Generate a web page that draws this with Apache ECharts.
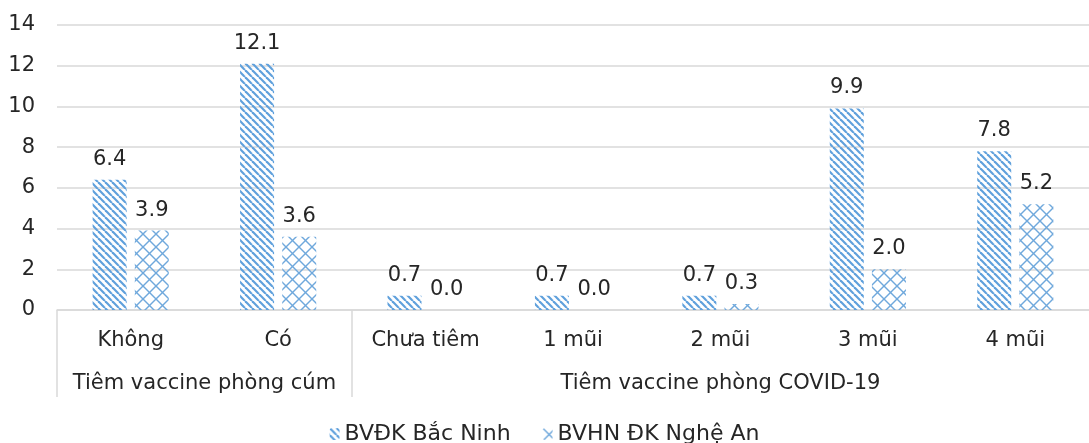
<!DOCTYPE html>
<html>
<head>
<meta charset="utf-8">
<script src="https://cdn.jsdelivr.net/npm/echarts@6/dist/echarts.min.js"></script>
<style>
html,body{margin:0;padding:0;background:#fff;}
#chart{width:1089px;height:443px;}
</style>
</head>
<body>
<div id="chart"></div>
<script>
// ---- data ----
const categories = ['Không', 'Có', 'Chưa tiêm', '1 mũi', '2 mũi', '3 mũi', '4 mũi'];
const groupLabels = ['Tiêm vaccine phòng cúm', 'Tiêm vaccine phòng COVID-19'];
const groupSizes = [2, 5];
const seriesNames = ['BVĐK Bắc Ninh', 'BVHN ĐK Nghệ An'];
const bacNinh = [6.4, 12.1, 0.7, 0.7, 0.7, 9.9, 7.8];
const ngheAn = [3.9, 3.6, 0.0, 0.0, 0.3, 2.0, 5.2];
const yMin = 0, yMax = 14, yStep = 2;

// ---- patterns ----
function stripePattern() {
  const s = 7;
  const c = document.createElement('canvas');
  c.width = s; c.height = s;
  const ctx = c.getContext('2d');
  ctx.strokeStyle = '#5fa0dc';
  ctx.lineWidth = 2.2;
  for (const k of [-1, 0, 1]) {
    ctx.beginPath();
    ctx.moveTo(k * s, 0);
    ctx.lineTo(k * s + s, s);
    ctx.stroke();
  }
  return { image: c, repeat: 'repeat' };
}
function crossPattern() {
  const s = 13;
  const c = document.createElement('canvas');
  c.width = s; c.height = s;
  const ctx = c.getContext('2d');
  ctx.strokeStyle = '#6fa8dc';
  ctx.lineWidth = 1.4;
  for (const k of [-1, 0, 1]) {
    ctx.beginPath();
    ctx.moveTo(k * s, 0);
    ctx.lineTo(k * s + s, s);
    ctx.stroke();
    ctx.beginPath();
    ctx.moveTo(k * s + s, 0);
    ctx.lineTo(k * s, s);
    ctx.stroke();
  }
  return { image: c, repeat: 'repeat' };
}

// group geometry on a 0..N value axis (derived from groupSizes)
const groupBounds = [0];
const groupCenters = [];
groupSizes.forEach((n, i) => {
  groupCenters.push(groupBounds[i] + n / 2);
  groupBounds.push(groupBounds[i] + n);
});

const FONT = 'DejaVu Sans';
const TXT = '#262626';
const GRID = '#d9d9d9';

const labelCfg = {
  show: true,
  position: 'top',
  distance: 10,
  fontFamily: FONT,
  fontSize: 21,
  color: TXT,
  formatter: p => Number(p.value).toFixed(1)
};

const chart = echarts.init(document.getElementById('chart'), null, { renderer: 'canvas' });
chart.setOption({
  backgroundColor: '#fff',
  animation: false,
  textStyle: { fontFamily: FONT },
  grid: { left: 57, right: 0, top: 25, bottom: 133, containLabel: false },
  legend: {
    top: 418,
    left: 'center',
    itemWidth: 10,
    itemHeight: 12,
    itemGap: 32,
    textStyle: { fontFamily: FONT, fontSize: 22, color: TXT },
    data: seriesNames
  },
  xAxis: [
    {
      type: 'category',
      data: categories,
      axisLine: { show: true, lineStyle: { color: GRID, width: 1.5 } },
      axisTick: { show: false },
      axisLabel: { margin: 20, fontFamily: FONT, fontSize: 21, color: TXT, interval: 0 }
    },
    {
      type: 'value',
      position: 'bottom',
      min: 0,
      max: categories.length,
      splitLine: { show: false },
      axisLine: { show: false },
      axisTick: {
        show: true,
        customValues: groupBounds.slice(0, -1),
        length: 87,
        lineStyle: { color: GRID, width: 1.5 }
      },
      axisLabel: {
        show: true,
        customValues: groupCenters,
        margin: 63,
        fontFamily: FONT,
        fontSize: 21,
        color: TXT,
        formatter: v => {
          const i = groupCenters.indexOf(v);
          return i >= 0 ? groupLabels[i] : '';
        }
      }
    }
  ],
  yAxis: {
    type: 'value',
    min: yMin,
    max: yMax,
    interval: yStep,
    axisLine: { show: false },
    axisTick: { show: false },
    splitLine: { lineStyle: { color: GRID, width: 1.5 } },
    axisLabel: { margin: 22, fontFamily: FONT, fontSize: 21, color: TXT }
  },
  series: [
    {
      name: seriesNames[0],
      type: 'bar',
      xAxisIndex: 0,
      data: bacNinh,
      barWidth: 34,
      barGap: '24%',
      itemStyle: { color: stripePattern() },
      label: labelCfg
    },
    {
      name: seriesNames[1],
      type: 'bar',
      xAxisIndex: 0,
      data: ngheAn,
      barWidth: 34,
      barGap: '24%',
      itemStyle: { color: crossPattern() },
      label: labelCfg
    }
  ]
});
</script>
</body>
</html>
